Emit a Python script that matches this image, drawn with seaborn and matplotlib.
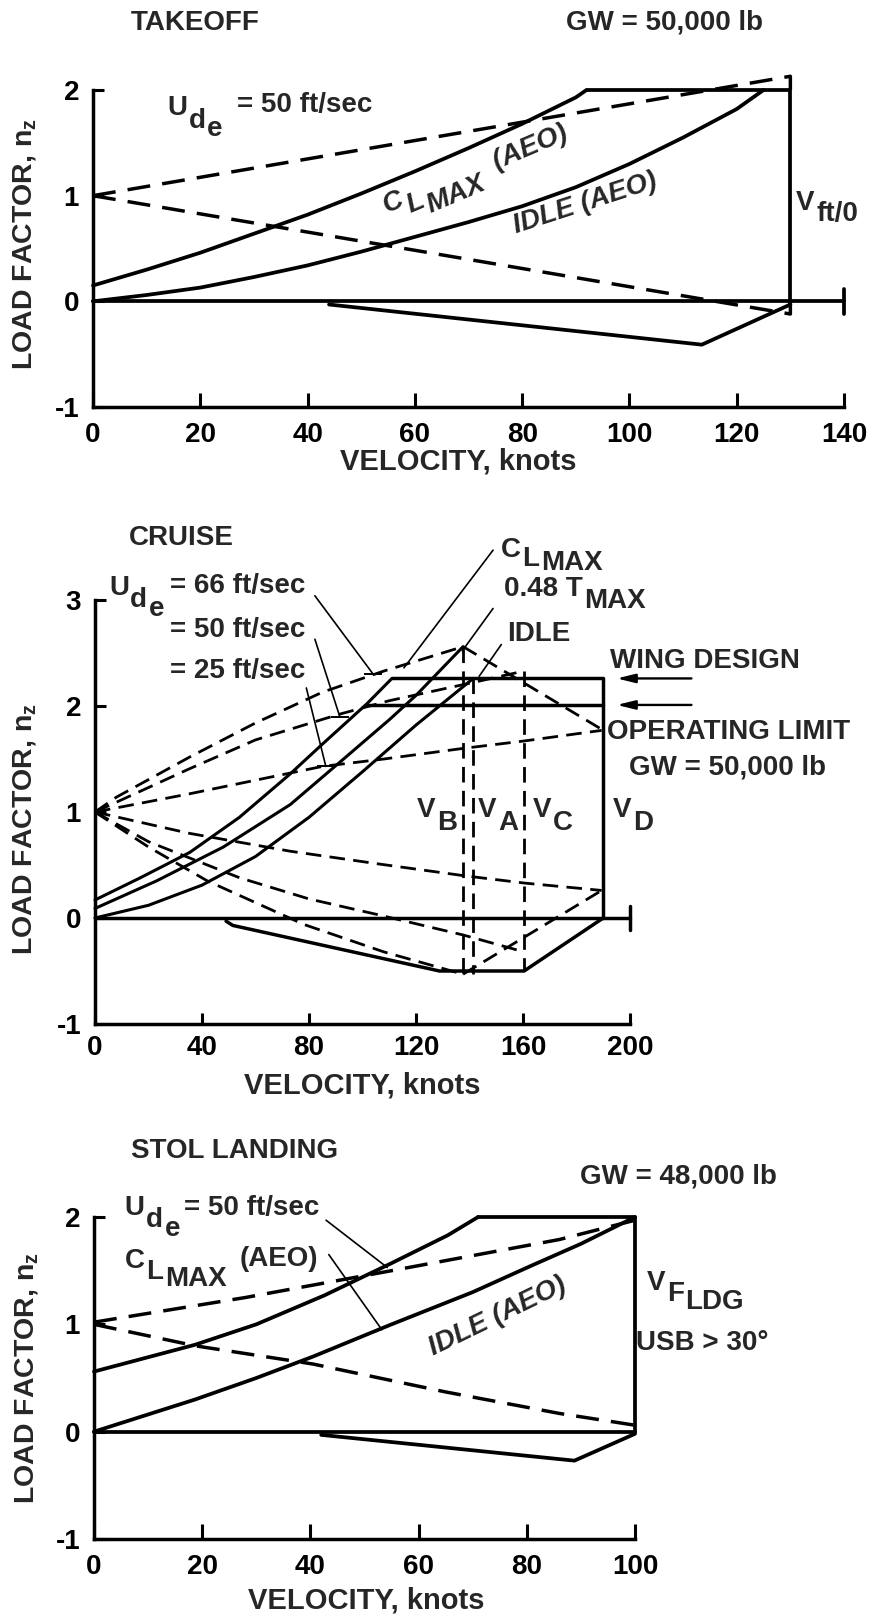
import numpy as np
import matplotlib
matplotlib.use("Agg")
import matplotlib.pyplot as plt
import seaborn as sns
from matplotlib.font_manager import FontProperties
from matplotlib.textpath import TextToPath

# ---- TAKEOFF (GW = 50,000 lb)
to_clmax_v = [0, 10, 20, 30, 40, 50, 60, 70, 80, 90, 92]
to_clmax_n = [0.15, 0.30, 0.46, 0.64, 0.82, 1.02, 1.23, 1.45, 1.68, 1.93, 2.0]
to_idle_v = [0, 10, 20, 30, 40, 50, 60, 70, 80, 90, 100, 110, 120, 125]
to_idle_n = [0, 0.06, 0.13, 0.23, 0.34, 0.47, 0.61, 0.75, 0.90, 1.08, 1.30, 1.55, 1.82, 2.0]
to_env_v = [92, 130, 130]
to_env_n = [2.0, 2.0, -0.03]
to_neg_v = [44, 113.5, 130]
to_neg_n = [-0.03, -0.41, -0.03]
to_gust_up_v = [0, 130, 130]
to_gust_up_n = [1.0, 2.13, 2.0]
to_gust_dn_v = [0, 130, 130]
to_gust_dn_n = [1.0, -0.12, 0.0]
to_vmax = 140

# ---- CRUISE (GW = 50,000 lb)
cr_clmax_v = [0, 17, 35.5, 54, 73, 85, 101.6, 111]
cr_clmax_n = [0.17, 0.38, 0.62, 0.95, 1.36, 1.64, 2.02, 2.26]
cr_tmax_v = [0, 23, 48, 73, 92, 110, 120, 137.6]
cr_tmax_n = [0.09, 0.35, 0.67, 1.07, 1.48, 1.87, 2.10, 2.56]
cr_idle_v = [0, 20, 40, 60, 80, 100, 120, 141.4]
cr_idle_n = [0, 0.12, 0.31, 0.58, 0.95, 1.38, 1.82, 2.26]
cr_design_v = [111, 190, 190]
cr_design_n = [2.26, 2.26, 0.0]
cr_oplim_v = [101.6, 190]
cr_oplim_n = [2.01, 2.01]
cr_neg_v = [49, 51.5, 128.8, 160.4, 190]
cr_neg_n = [-0.03, -0.07, -0.50, -0.50, 0.0]
cr_g66_up_v = [0, 8, 35.5, 60, 85, 108, 137.6]
cr_g66_up_n = [1.0, 1.14, 1.52, 1.84, 2.13, 2.33, 2.56]
cr_g66_dn_v = [0, 20, 42, 78, 108, 137.6]
cr_g66_dn_n = [1.0, 0.67, 0.35, -0.06, -0.32, -0.53]
cr_g50_up_v = [0, 35.5, 60, 91, 110, 141, 160.4]
cr_g50_up_n = [1.0, 1.41, 1.68, 1.92, 2.05, 2.22, 2.33]
cr_g50_dn_v = [0, 20, 54, 80, 106, 137.6, 160.4]
cr_g50_dn_n = [1.0, 0.72, 0.38, 0.18, 0.03, -0.16, -0.32]
cr_g25_up_v = [0, 35, 60, 85, 108, 137.6, 160.4, 189.4]
cr_g25_up_n = [1.0, 1.17, 1.30, 1.43, 1.50, 1.60, 1.67, 1.77]
cr_g25_dn_v = [0, 35, 73, 106, 137.6, 160.4, 189.4]
cr_g25_dn_n = [1.0, 0.80, 0.63, 0.51, 0.40, 0.33, 0.26]
cr_top_close_v = [137.6, 189.4]
cr_top_close_n = [2.56, 1.78]
cr_low_close_v = [137.6, 189.4]
cr_low_close_n = [-0.53, 0.26]
cr_vb, cr_va, cr_vc = 137.6, 141.4, 160.4
cr_vb_n = [2.56, -0.53]
cr_va_n = [2.26, -0.53]
cr_vc_n = [2.33, -0.50]
cr_vmax = 200

# ---- STOL LANDING (GW = 48,000 lb)
st_clmax_v = [0, 18.7, 30, 42.6, 55, 65.4, 71]
st_clmax_n = [0.56, 0.81, 1.0, 1.27, 1.57, 1.83, 2.0]
st_idle_v = [0, 18.7, 30, 40.5, 55, 70, 81, 90, 100]
st_idle_n = [0, 0.30, 0.50, 0.70, 1.0, 1.30, 1.55, 1.75, 2.0]
st_env_v = [71, 100, 100]
st_env_n = [2.0, 2.0, 0.0]
st_neg_v = [42, 88.8, 100]
st_neg_n = [-0.03, -0.27, -0.02]
st_gust_up_v = [0, 28, 55, 86, 100]
st_gust_up_n = [1.02, 1.25, 1.50, 1.79, 1.97]
st_gust_dn_v = [0, 18.7, 40.5, 65, 86, 100]
st_gust_dn_n = [1.0, 0.80, 0.63, 0.37, 0.17, 0.06]
st_vmax = 100

sns.set_theme(style="white")
plt.rcParams["font.family"] = ["Liberation Sans", "DejaVu Sans"]
plt.rcParams["font.weight"] = "bold"
plt.rcParams["axes.unicode_minus"] = False
plt.rcParams["mathtext.fontset"] = "custom"
plt.rcParams["mathtext.rm"] = "Liberation Sans:bold"
plt.rcParams["mathtext.bf"] = "Liberation Sans:bold"

W, H = 871, 1617
fig = plt.figure(figsize=(W / 100, H / 100), dpi=100)
fig.patch.set_facecolor("white")
ttp = TextToPath()


def box(left, top, right, bottom):
    return [left / W, 1 - bottom / H, (right - left) / W, (bottom - top) / H]


def line(ax, xs, ys, lw=2.7, dash=None, **kw):
    if dash is not None:
        kw["linestyle"] = (0, dash)
    sns.lineplot(x=xs, y=ys, ax=ax, estimator=None, sort=False, color="black",
                 linewidth=lw, clip_on=False, **kw)


def leader(ax, xs, ys, tee=True):
    kw = dict(marker="_", markevery=[1], markersize=13, markeredgewidth=1.4,
              markeredgecolor="black") if tee else {}
    line(ax, xs, ys, lw=1.2, **kw)


def stacked(ax, x, y, parts, size=20, angle=0.0, italic=False, center=False):
    # text with full-size, stepped-down subscripts
    prop = FontProperties(family=["Liberation Sans", "DejaVu Sans"], weight="bold",
                          style="italic" if italic else "normal", size=size)
    widths = [ttp.get_text_width_height_descent(t, prop, ismath=False)[0] for t, _ in parts]
    gap = 1.0
    total = sum(widths) + gap * (len(parts) - 1)
    c, s = np.cos(np.radians(angle)), np.sin(np.radians(angle))
    along = -total / 2 if center else 0.0
    lift = -0.36 * size if center else 0.0
    for (txt, drop), w in zip(parts, widths):
        perp = lift - drop
        ax.annotate(txt, (x, y), xytext=(along * c - perp * s, along * s + perp * c),
                    textcoords="offset points", rotation=angle, rotation_mode="anchor",
                    ha="left", va="baseline", fontproperties=prop, annotation_clip=False)
        along += w + gap


def frame(ax, xmax, ytop, xstep, tlen, pad):
    ax.set_xlim(0, xmax)
    ax.set_ylim(-1, ytop)
    ax.set_xticks(np.arange(0, xmax + 1, xstep))
    ax.set_yticks(range(-1, ytop + 1))
    sns.despine(ax=ax)
    for sp in ("left", "bottom"):
        ax.spines[sp].set_color("black")
        ax.spines[sp].set_linewidth(2.5)
    ax.tick_params(axis="x", bottom=True, direction="in", length=tlen, width=2.2,
                   color="black", labelsize=20, pad=pad, labelcolor="black")
    ax.tick_params(axis="y", left=True, direction="in", length=8, width=2.2,
                   color="black", labelsize=20, pad=10, labelcolor="black")
    ax.patch.set_alpha(0)
    ax.grid(False)
    ax.set(xlabel="", ylabel="")


def ftext(X, Y, s, ha="center", va="baseline", **kw):
    fig.text(X / W, 1 - Y / H, s, ha=ha, va=va, fontsize=kw.pop("fontsize", 20), **kw)


ylab = "LOAD FACTOR, $\\mathregular{n_z}$"
D1 = (6.6, 3.5)
D2 = (5.6, 3.0)

# ================= TAKEOFF =================
ax1 = fig.add_axes(box(93, 90, 844, 407))
line(ax1, to_clmax_v, to_clmax_n)
line(ax1, to_idle_v, to_idle_n)
line(ax1, to_env_v, to_env_n)
line(ax1, to_neg_v, to_neg_n)
line(ax1, [0, to_vmax], [0, 0])
line(ax1, [to_vmax, to_vmax], [-0.12, 0.12])
line(ax1, to_gust_up_v, to_gust_up_n, lw=2.5, dash=D1)
line(ax1, to_gust_dn_v, to_gust_dn_n, lw=2.5, dash=D1)
frame(ax1, to_vmax, 2, 20, 10, 11)

ftext(195, 30, "TAKEOFF")
ftext(664, 30, "GW = 50,000 lb")
stacked(ax1, 13.8, 1.763, [("U", 0), ("d", 9), ("e", 15)])
ax1.text(26.8, 1.79, "= 50 ft/sec", fontsize=20, va="baseline")
stacked(ax1, 71.0, 1.29, [("C", 0), ("L", 7), ("MAX", 12), ("  (AEO)", 2)],
        angle=23, italic=True, center=True)
stacked(ax1, 91.6, 0.95, [("IDLE (AEO)", 0)], angle=18, italic=True, center=True)
stacked(ax1, 131.1, 0.865, [("V", 0), ("ft/0", 8)])
ftext(24, 244, ylab, va="center", rotation=90, fontsize=20.5)
ftext(458, 462, "VELOCITY, knots", va="center", fontsize=21)

# ================= CRUISE =================
ax2 = fig.add_axes(box(95, 600, 630, 1024))
line(ax2, cr_clmax_v, cr_clmax_n, lw=2.2)
line(ax2, cr_tmax_v, cr_tmax_n, lw=2.2)
line(ax2, cr_idle_v, cr_idle_n, lw=2.2)
line(ax2, cr_design_v, cr_design_n, lw=2.5)
line(ax2, cr_oplim_v, cr_oplim_n, lw=2.5)
line(ax2, cr_neg_v, cr_neg_n, lw=2.5)
line(ax2, [0, cr_vmax], [0, 0], lw=2.5)
line(ax2, [cr_vmax, cr_vmax], [-0.11, 0.11], lw=2.5)
for gv, gn in [(cr_g66_up_v, cr_g66_up_n), (cr_g66_dn_v, cr_g66_dn_n),
               (cr_g50_up_v, cr_g50_up_n), (cr_g50_dn_v, cr_g50_dn_n),
               (cr_g25_up_v, cr_g25_up_n), (cr_g25_dn_v, cr_g25_dn_n),
               (cr_top_close_v, cr_top_close_n), (cr_low_close_v, cr_low_close_n)]:
    line(ax2, gv, gn, lw=2.0, dash=D2)
line(ax2, [cr_vb, cr_vb], cr_vb_n, lw=2.0, dash=D2)
line(ax2, [cr_va, cr_va], cr_va_n, lw=2.0, dash=D2)
line(ax2, [cr_vc, cr_vc], cr_vc_n, lw=2.0, dash=D2)
frame(ax2, cr_vmax, 3, 40, 8, 8)

ftext(181, 545, "CRUISE")
stacked(ax2, 5.2, 3.05, [("U", 0), ("d", 9), ("e", 15)])
ax2.text(28, 3.07, "= 66 ft/sec", fontsize=20, va="baseline")
ax2.text(28, 2.65, "= 50 ft/sec", fontsize=20, va="baseline")
ax2.text(28, 2.26, "= 25 ft/sec", fontsize=20, va="baseline")
leader(ax2, [82.2, 104], [3.04, 2.30])
leader(ax2, [82.2, 91.5], [2.63, 1.90])
leader(ax2, [79, 86.3], [2.17, 1.43])
leader(ax2, [148.8, 115.5], [3.47, 2.36], tee=False)
leader(ax2, [148.8, 137.3], [2.92, 2.52], tee=False)
leader(ax2, [151.9, 143.6], [2.58, 2.28], tee=False)
stacked(ax2, 151.8, 3.41, [("C", 0), ("L", 7), ("MAX", 10)])
stacked(ax2, 152.9, 3.04, [("0.48 T", 0), ("MAX", 9)])
ax2.text(154, 2.61, "IDLE", fontsize=20, va="baseline")
ax2.text(192.5, 2.36, "WING DESIGN", fontsize=20, va="baseline")
ax2.text(191.4, 1.69, "OPERATING LIMIT", fontsize=20, va="baseline")
ax2.text(199.6, 1.35, "GW = 50,000 lb", fontsize=20, va="baseline")
arw = dict(arrowstyle="-|>,head_length=0.9,head_width=0.22", color="black", lw=1.7)
ax2.annotate("", xy=(194, 2.26), xytext=(224, 2.26), arrowprops=arw, annotation_clip=False)
ax2.annotate("", xy=(194, 2.01), xytext=(224, 2.01), arrowprops=arw, annotation_clip=False)
for vx, sub in [(120.4, "B"), (143.2, "A"), (163.7, "C"), (193.6, "D")]:
    stacked(ax2, vx, 0.95, [("V", 0), (sub, 9)])
ftext(25, 829, ylab, va="center", rotation=90, fontsize=20.5)
ftext(362, 1085, "VELOCITY, knots", va="center", fontsize=21)

# ================= STOL LANDING =================
ax3 = fig.add_axes(box(94, 1217, 635, 1539))
line(ax3, st_clmax_v, st_clmax_n)
line(ax3, st_idle_v, st_idle_n)
line(ax3, st_env_v, st_env_n)
line(ax3, st_neg_v, st_neg_n)
line(ax3, [0, st_vmax], [0, 0])
line(ax3, st_gust_up_v, st_gust_up_n, lw=2.5, dash=D1)
line(ax3, st_gust_dn_v, st_gust_dn_n, lw=2.5, dash=D1)
frame(ax3, st_vmax, 2, 20, 11, 11)

ftext(235, 1158, "STOL LANDING")
ftext(678, 1183, "GW = 48,000 lb")
stacked(ax3, 5.7, 2.02, [("U", 0), ("d", 9), ("e", 15)])
ax3.text(16.6, 2.02, "= 50 ft/sec", fontsize=20, va="baseline")
leader(ax3, [42.9, 54.2], [1.97, 1.53], tee=False)
stacked(ax3, 5.7, 1.525, [("C", 0), ("L", 8), ("MAX", 13)])
ax3.text(27, 1.54, "(AEO)", fontsize=20, va="baseline")
leader(ax3, [43.4, 53.2], [1.65, 0.95], tee=False)
stacked(ax3, 74.3, 1.10, [("IDLE (AEO)", 0)], angle=26, italic=True, center=True)
stacked(ax3, 102.2, 1.32, [("V", 0), ("F", 8), ("LDG", 14)])
ax3.text(100.2, 0.76, "USB > 30°", fontsize=20, va="baseline")
ftext(26, 1378, ylab, va="center", rotation=90, fontsize=20.5)
ftext(366, 1600, "VELOCITY, knots", va="center", fontsize=21)

fig.savefig("out.png", dpi=100, facecolor="white")
